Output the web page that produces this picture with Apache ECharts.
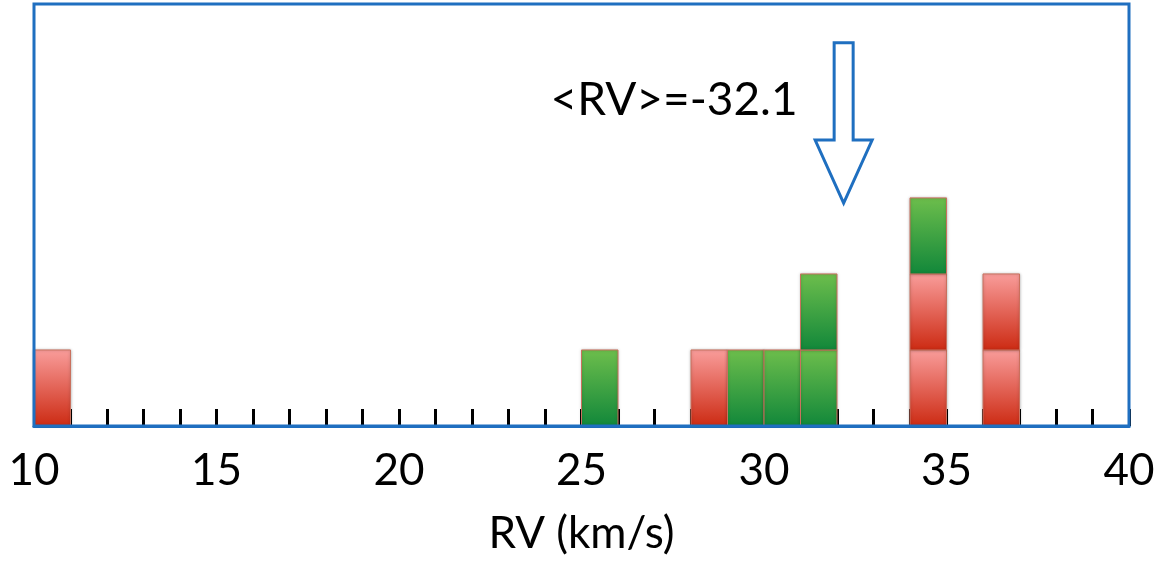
<!DOCTYPE html>
<html>
<head>
<meta charset="utf-8">
<script src="https://cdn.jsdelivr.net/npm/echarts@6/dist/echarts.min.js"></script>
<style>
  html, body { margin: 0; padding: 0; background: #fff; }
  #rvHist { width: 1169px; height: 567px; }
</style>
</head>
<body>
<div id="rvHist"></div>
<script>
// histogram bins (left edge, km/s) and counts per colour
var binStart = [10, 25, 28, 29, 30, 31, 34, 36]
var redCounts = [1, 0, 1, 0, 0, 0, 2, 2]
var greenCounts = [0, 1, 0, 1, 1, 2, 1, 0]
var binWidth = 1
var meanRV = 32.1
var meanLabel = '<RV>=-32.1'
// arrow, in y units (one block = 1)
var arrowTop = 5.04
var arrowHeadTop = 3.76
var arrowTip = 2.93

var chartDom = document.getElementById('rvHist')
var myChart = echarts.init(chartDom)

// one block per counted star, red at bottom, green above
var blocks = []
binStart.forEach(function (x, i) {
  for (var k = 0; k < redCounts[i]; k++) blocks.push([x, k, 0])
  for (var g = 0; g < greenCounts[i]; g++) blocks.push([x, redCounts[i] + g, 1])
})

var fills = [
  new echarts.graphic.LinearGradient(0, 0, 0, 1, [
    { offset: 0, color: '#f99d9b' },
    { offset: 1, color: '#cc2a12' }
  ]),
  new echarts.graphic.LinearGradient(0, 0, 0, 1, [
    { offset: 0, color: '#6dbe4c' },
    { offset: 1, color: '#11873a' }
  ])
]

var option = {
  animation: false,
  grid: {
    left: 34, right: 40, top: 4, bottom: 141,
    show: true,
    borderColor: '#1f6fc0',
    borderWidth: 3,
    z: 10
  },
  xAxis: {
    type: 'value',
    min: 10,
    max: 40,
    interval: 5,
    name: 'RV (km/s)',
    nameLocation: 'middle',
    nameGap: 86,
    nameTextStyle: { fontFamily: 'Lato', fontSize: 44, color: '#000' },
    splitLine: { show: false },
    axisLine: { show: true, lineStyle: { color: '#1f6fc0', width: 3 } },
    axisTick: { show: true, inside: true, length: 17, lineStyle: { color: '#000', width: 3 } },
    minorTick: { show: true, splitNumber: 5, length: 17, lineStyle: { color: '#000', width: 3 } },
    axisLabel: { fontFamily: 'Lato', fontSize: 44, color: '#000', margin: 23 }
  },
  yAxis: {
    type: 'value',
    min: 0,
    max: 5.55,
    show: false
  },
  series: [
    {
      type: 'custom',
      data: blocks,
      renderItem: function (params, api) {
        var x0 = api.value(0)
        var lvl = api.value(1)
        var p0 = api.coord([x0, lvl + 1])
        var p1 = api.coord([x0 + binWidth, lvl])
        return {
          type: 'rect',
          shape: { x: p0[0], y: p0[1], width: p1[0] - p0[0], height: p1[1] - p0[1] },
          style: {
            fill: fills[api.value(2)],
            stroke: '#c9715e',
            lineWidth: 1,
            shadowBlur: 3,
            shadowColor: 'rgba(0,0,0,0.25)'
          }
        }
      }
    },
    {
      type: 'custom',
      data: [[meanRV]],
      z: 5,
      renderItem: function (params, api) {
        var top = api.coord([api.value(0), arrowTop])
        var head = api.coord([api.value(0), arrowHeadTop])
        var tip = api.coord([api.value(0), arrowTip])
        var cx = top[0] + 3
        return {
          type: 'group',
          children: [
            {
              type: 'polygon',
              shape: {
                points: [
                  [cx - 9.5, top[1]], [cx + 9.5, top[1]], [cx + 9.5, head[1]],
                  [cx + 28.5, head[1]], [cx, tip[1]], [cx - 28.5, head[1]], [cx - 9.5, head[1]]
                ]
              },
              style: { fill: '#fff', stroke: '#1f6fc0', lineWidth: 3 }
            },
            {
              type: 'text',
              x: cx - 46,
              y: api.coord([api.value(0), 4.29])[1],
              style: {
                text: meanLabel,
                fontFamily: 'Lato',
                fontSize: 46,
                fill: '#000',
                align: 'right',
                verticalAlign: 'middle'
              }
            }
          ]
        }
      }
    }
  ]
}

option && myChart.setOption(option)
</script>
</body>
</html>
